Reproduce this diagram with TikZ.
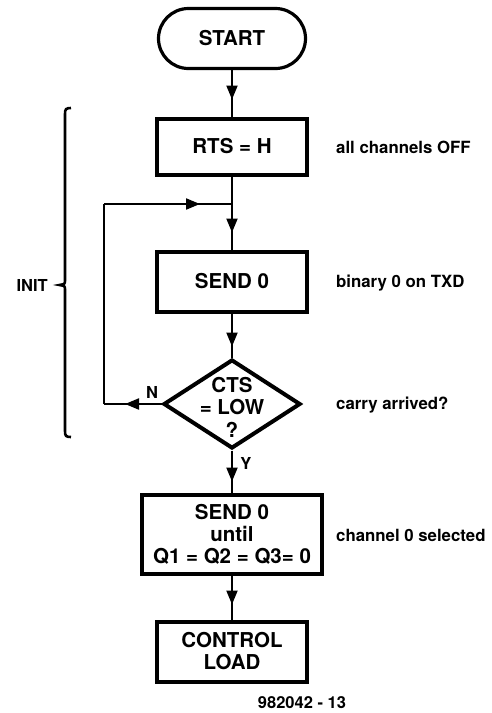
\documentclass[tikz,border=0pt]{standalone}
\usepackage{fontspec}
\setmainfont{TeX Gyre Heros}
\usetikzlibrary{arrows.meta,shapes.geometric,decorations.markings}
\tikzset{
  boxstyle/.style={draw, line width=4pt, rectangle, inner sep=0pt,
    font=\fontsize{20.5}{22}\selectfont\bfseries, align=center},
  pillstyle/.style={draw, line width=3.2pt, rectangle, inner sep=0pt,
    font=\fontsize{20.5}{22}\selectfont\bfseries, minimum width=147pt, minimum height=60pt,
    rounded corners=30pt},
  decstyle/.style={draw, line width=4pt, diamond, inner sep=0pt,
    minimum width=137pt, minimum height=89pt},
  dectext/.style={font=\fontsize{20.5}{22.5}\selectfont\bfseries, align=center, inner sep=0pt},
  sidelabel/.style={font=\fontsize{16.8}{18}\selectfont\bfseries, anchor=west, inner sep=0pt},
  smalllabel/.style={font=\fontsize{16.5}{18}\selectfont\bfseries, inner sep=0pt},
  conn/.style={line width=2.1pt},
  tipat/.style={conn, postaction={decorate},
    decoration={markings, mark=at position #1 with {\arrow{Triangle[width=11pt,length=14pt]}}}},
}
\begin{document}
\begin{tikzpicture}[x=1pt,y=-1pt]
\useasboundingbox (0,0) rectangle (491,713);

\node[pillstyle] (start) at (232,38.5) {START};
\node[boxstyle, minimum width=150pt, minimum height=56pt] (rts) at (232,146.5) {RTS = H};
\node[boxstyle, minimum width=150pt, minimum height=60pt] (send) at (232,281.5) {SEND 0};
\node[decstyle] (dec) at (232,404) {};
\node[dectext] (dtext) at (232,407) {CTS\\= LOW\\?};
\node[boxstyle, minimum width=180pt, minimum height=79pt] (until) at (232,534) {SEND 0\\until\\Q1 = Q2 = Q3= 0};
\node[boxstyle, minimum width=150pt, minimum height=60pt] (ctrl) at (232,651.5) {CONTROL\\LOAD};

\coordinate (j) at (232,204);
\coordinate (nl) at (104,404);
\coordinate (tl) at (104,204);

\draw[tipat=-17pt] (start.south) -- (rts.north);
\draw[tipat=-17pt] (rts.south) -- (send.north);
\draw[tipat=-11pt] (send.south) -- (dec.north);
\draw[tipat=-11pt] (dec.south) -- (until.north);
\draw[tipat=-15pt] (until.south) -- (ctrl.north);
\draw[tipat=-21pt] (dec.west) -- (nl);
\draw[conn] (nl) -- (tl);
\draw[tipat=-32pt] (tl) -- (j);

\node[smalllabel] (nlab) at (152,392) {N};
\node[smalllabel] (ylab) at (246,463) {Y};

\node[sidelabel] (l1) at (336,147) {all channels OFF};
\node[sidelabel] (l2) at (336,283) {binary 0 on TXD};
\node[sidelabel] (l3) at (336,405) {carry arrived?};
\node[sidelabel] (l4) at (336,535) {channel 0 selected};

\node[smalllabel, anchor=east] (init) at (48,285) {INIT};
\draw[line width=2.6pt] (71,108) .. controls (66,108) and (65,109) .. (65,114)
  -- (65,280) .. controls (65,284) .. (59.5,285) .. controls (65,286) .. (65,290)
  -- (65,431) .. controls (65,436) and (66,437) .. (71,437);

\node[smalllabel] (fig) at (302,703) {982042 - 13};
\end{tikzpicture}
\end{document}
